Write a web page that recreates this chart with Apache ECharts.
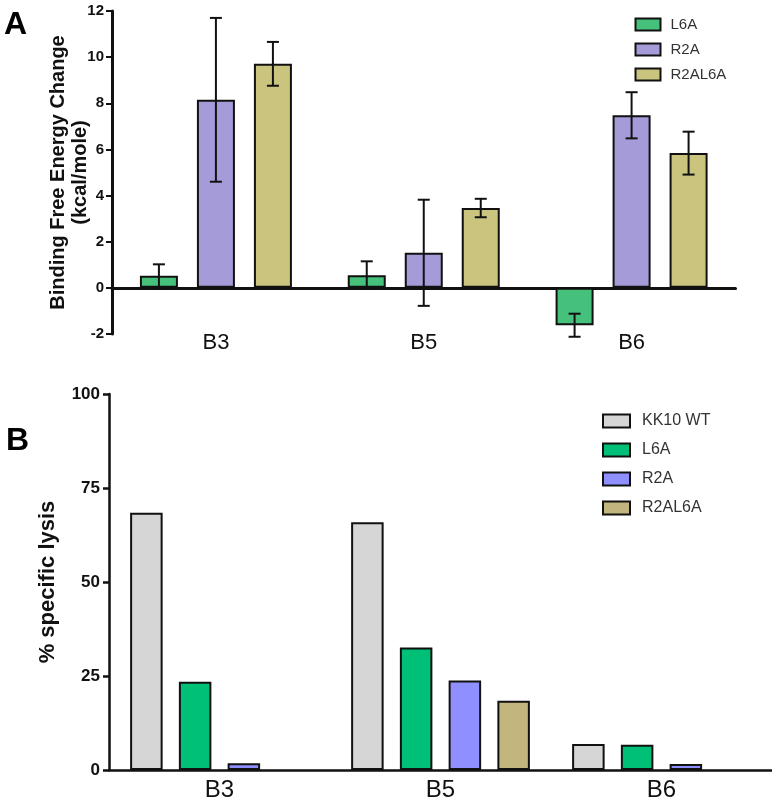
<!DOCTYPE html>
<html><head><meta charset="utf-8">
<script src="https://cdn.jsdelivr.net/npm/echarts@6/dist/echarts.min.js"></script>
<style>html,body{margin:0;padding:0;background:#fff}#c{width:772px;height:810px}</style>
</head><body><div id="c"></div>
<script>
// ---------- Panel A data ----------
const categoriesA = ['B3', 'B5', 'B6'];
const seriesNamesA = ['L6A', 'R2A', 'R2AL6A'];
const l6aA = [0.52, 0.55, -1.62];
const r2aA = [8.15, 1.52, 7.48];
const r2al6aA = [9.71, 3.46, 5.84];
const l6aErrA = [0.5, 0.6, 0.5];
const r2aErrA = [3.55, 2.3, 1.0];
const r2al6aErrA = [0.95, 0.4, 0.93];
const yTicksA = [-2, 0, 2, 4, 6, 8, 10, 12];

// ---------- Panel B data ----------
const categoriesB = ['B3', 'B5', 'B6'];
const seriesNamesB = ['KK10 WT', 'L6A', 'R2A', 'R2AL6A'];
const kk10B = [68.4, 65.9, 6.9];
const l6aB = [23.5, 32.6, 6.7];
const r2aB = [1.8, 23.8, 1.6];
const r2al6aB = [null, 18.4, null];
const yTicksB = [0, 25, 50, 75, 100];

// ---------- styles ----------
const FONT = 'Liberation Sans';
const INK = '#111';
const colorsA = ['#45c17b', '#a59bd9', '#cbc47e'];
const colorsB = ['#d6d6d6', '#00c078', '#8f8fff', '#c2b67e'];
const BAR_W_A = 38, PITCH_A = 57, CAP = 6;
const BAR_W_B = 32.5;

const valsA = [l6aA, r2aA, r2al6aA];
const errsA = [l6aErrA, r2aErrA, r2al6aErrA];
const valsB = [kk10B, l6aB, r2aB, r2al6aB];

function errorRender(offsetIdx) {
  return function (params, api) {
    const ci = api.value(0), v = api.value(1), e = api.value(2);
    const hi = api.coord([ci, v + e]);
    const lo = api.coord([ci, v - e]);
    const x = hi[0] + offsetIdx * PITCH_A;
    const st = { stroke: INK, lineWidth: 2 };
    return {
      type: 'group', children: [
        { type: 'line', shape: { x1: x, y1: hi[1], x2: x, y2: lo[1] }, style: st },
        { type: 'line', shape: { x1: x - CAP, y1: hi[1], x2: x + CAP, y2: hi[1] }, style: st },
        { type: 'line', shape: { x1: x - CAP, y1: lo[1], x2: x + CAP, y2: lo[1] }, style: st }
      ]
    };
  };
}

const series = [];
seriesNamesA.forEach((n, i) => {
  series.push({
    name: n, type: 'bar', xAxisIndex: 0, yAxisIndex: 0,
    data: valsA[i], barWidth: BAR_W_A, barGap: '50%',
    itemStyle: { color: colorsA[i], borderColor: INK, borderWidth: 2 }
  });
});
seriesNamesA.forEach((n, i) => {
  series.push({
    name: n + ' err', type: 'custom', xAxisIndex: 0, yAxisIndex: 0, z: 5,
    renderItem: errorRender(i - 1),
    data: categoriesA.map((c, k) => [k, valsA[i][k], errsA[i][k]])
  });
});
seriesNamesB.forEach((n, i) => {
  series.push({
    name: 'B:' + n, type: 'bar', xAxisIndex: 1, yAxisIndex: 1,
    data: valsB[i], barWidth: BAR_W_B, barGap: '50%',
    itemStyle: { color: colorsB[i], borderColor: INK, borderWidth: 2 }
  });
});

const chart = echarts.init(document.getElementById('c'), null, { renderer: 'canvas' });
chart.setOption({
  animation: false,
  backgroundColor: '#fff',
  textStyle: { fontFamily: FONT },
  title: [
    { text: 'A', left: 4, top: 9, padding: 0, textStyle: { fontSize: 32, fontWeight: 'bold', color: '#000', fontFamily: FONT } },
    { text: 'B', left: 6, top: 425, padding: 0, textStyle: { fontSize: 32, fontWeight: 'bold', color: '#000', fontFamily: FONT } }
  ],
  legend: [
    {
      data: seriesNamesA, orient: 'vertical', left: 634.5, top: 17, padding: 0,
      itemWidth: 25, itemHeight: 12, itemGap: 10, icon: 'rect',
      textStyle: { fontSize: 15, color: '#333', lineHeight: 12, padding: [0, 0, 0, 5], fontFamily: FONT }
    },
    {
      data: seriesNamesB.map(n => 'B:' + n), orient: 'vertical', left: 602, top: 413, padding: 0,
      itemWidth: 27, itemHeight: 13, itemGap: 13, icon: 'rect',
      formatter: n => n.slice(2),
      textStyle: { fontSize: 16, color: '#333', lineHeight: 13, padding: [0, 0, 0, 7], fontFamily: FONT }
    }
  ],
  grid: [
    { left: 112, top: 11, width: 623.5, height: 323 },
    { left: 109, top: 394, width: 685, height: 376 }
  ],
  xAxis: [
    {
      gridIndex: 0, type: 'category', data: categoriesA,
      axisLine: { onZero: true, lineStyle: { color: INK, width: 3 } },
      axisTick: { show: false },
      axisLabel: { margin: -2, fontSize: 22, color: INK, fontFamily: FONT }
    },
    {
      gridIndex: 1, type: 'category', data: categoriesB,
      axisLine: { lineStyle: { color: INK, width: 2.5 } },
      axisTick: { alignWithLabel: true, length: 6, lineStyle: { color: INK, width: 2.5 } },
      axisLabel: { margin: 8, fontSize: 24, color: INK, fontFamily: FONT }
    }
  ],
  yAxis: [
    {
      gridIndex: 0, type: 'value', min: yTicksA[0], max: yTicksA[yTicksA.length - 1], interval: yTicksA[1] - yTicksA[0],
      axisLine: { show: true, lineStyle: { color: INK, width: 3 } },
      axisTick: { show: true, length: 6, lineStyle: { color: INK, width: 2 } },
      splitLine: { show: false },
      axisLabel: { fontSize: 15, fontWeight: 'bold', margin: 8, color: INK, fontFamily: FONT },
      name: 'Binding Free Energy Change\n(kcal/mole)', nameLocation: 'middle', nameRotate: 90, nameGap: 21,
      nameMoveOverlap: false,
      nameTextStyle: { fontSize: 20, fontWeight: 'bold', lineHeight: 22, color: INK, fontFamily: FONT }
    },
    {
      gridIndex: 1, type: 'value', min: yTicksB[0], max: yTicksB[yTicksB.length - 1], interval: yTicksB[1] - yTicksB[0],
      axisLine: { show: true, lineStyle: { color: INK, width: 2.5 } },
      axisTick: { show: true, length: 6, lineStyle: { color: INK, width: 2.5 } },
      splitLine: { show: false },
      axisLabel: { fontSize: 17, fontWeight: 'bold', margin: 9, color: INK, fontFamily: FONT },
      name: '% specific lysis', nameLocation: 'middle', nameRotate: 90, nameGap: 50,
      nameMoveOverlap: false,
      nameTextStyle: { fontSize: 22, fontWeight: 'bold', color: INK, fontFamily: FONT }
    }
  ],
  series: series
});
</script>
</body></html>
